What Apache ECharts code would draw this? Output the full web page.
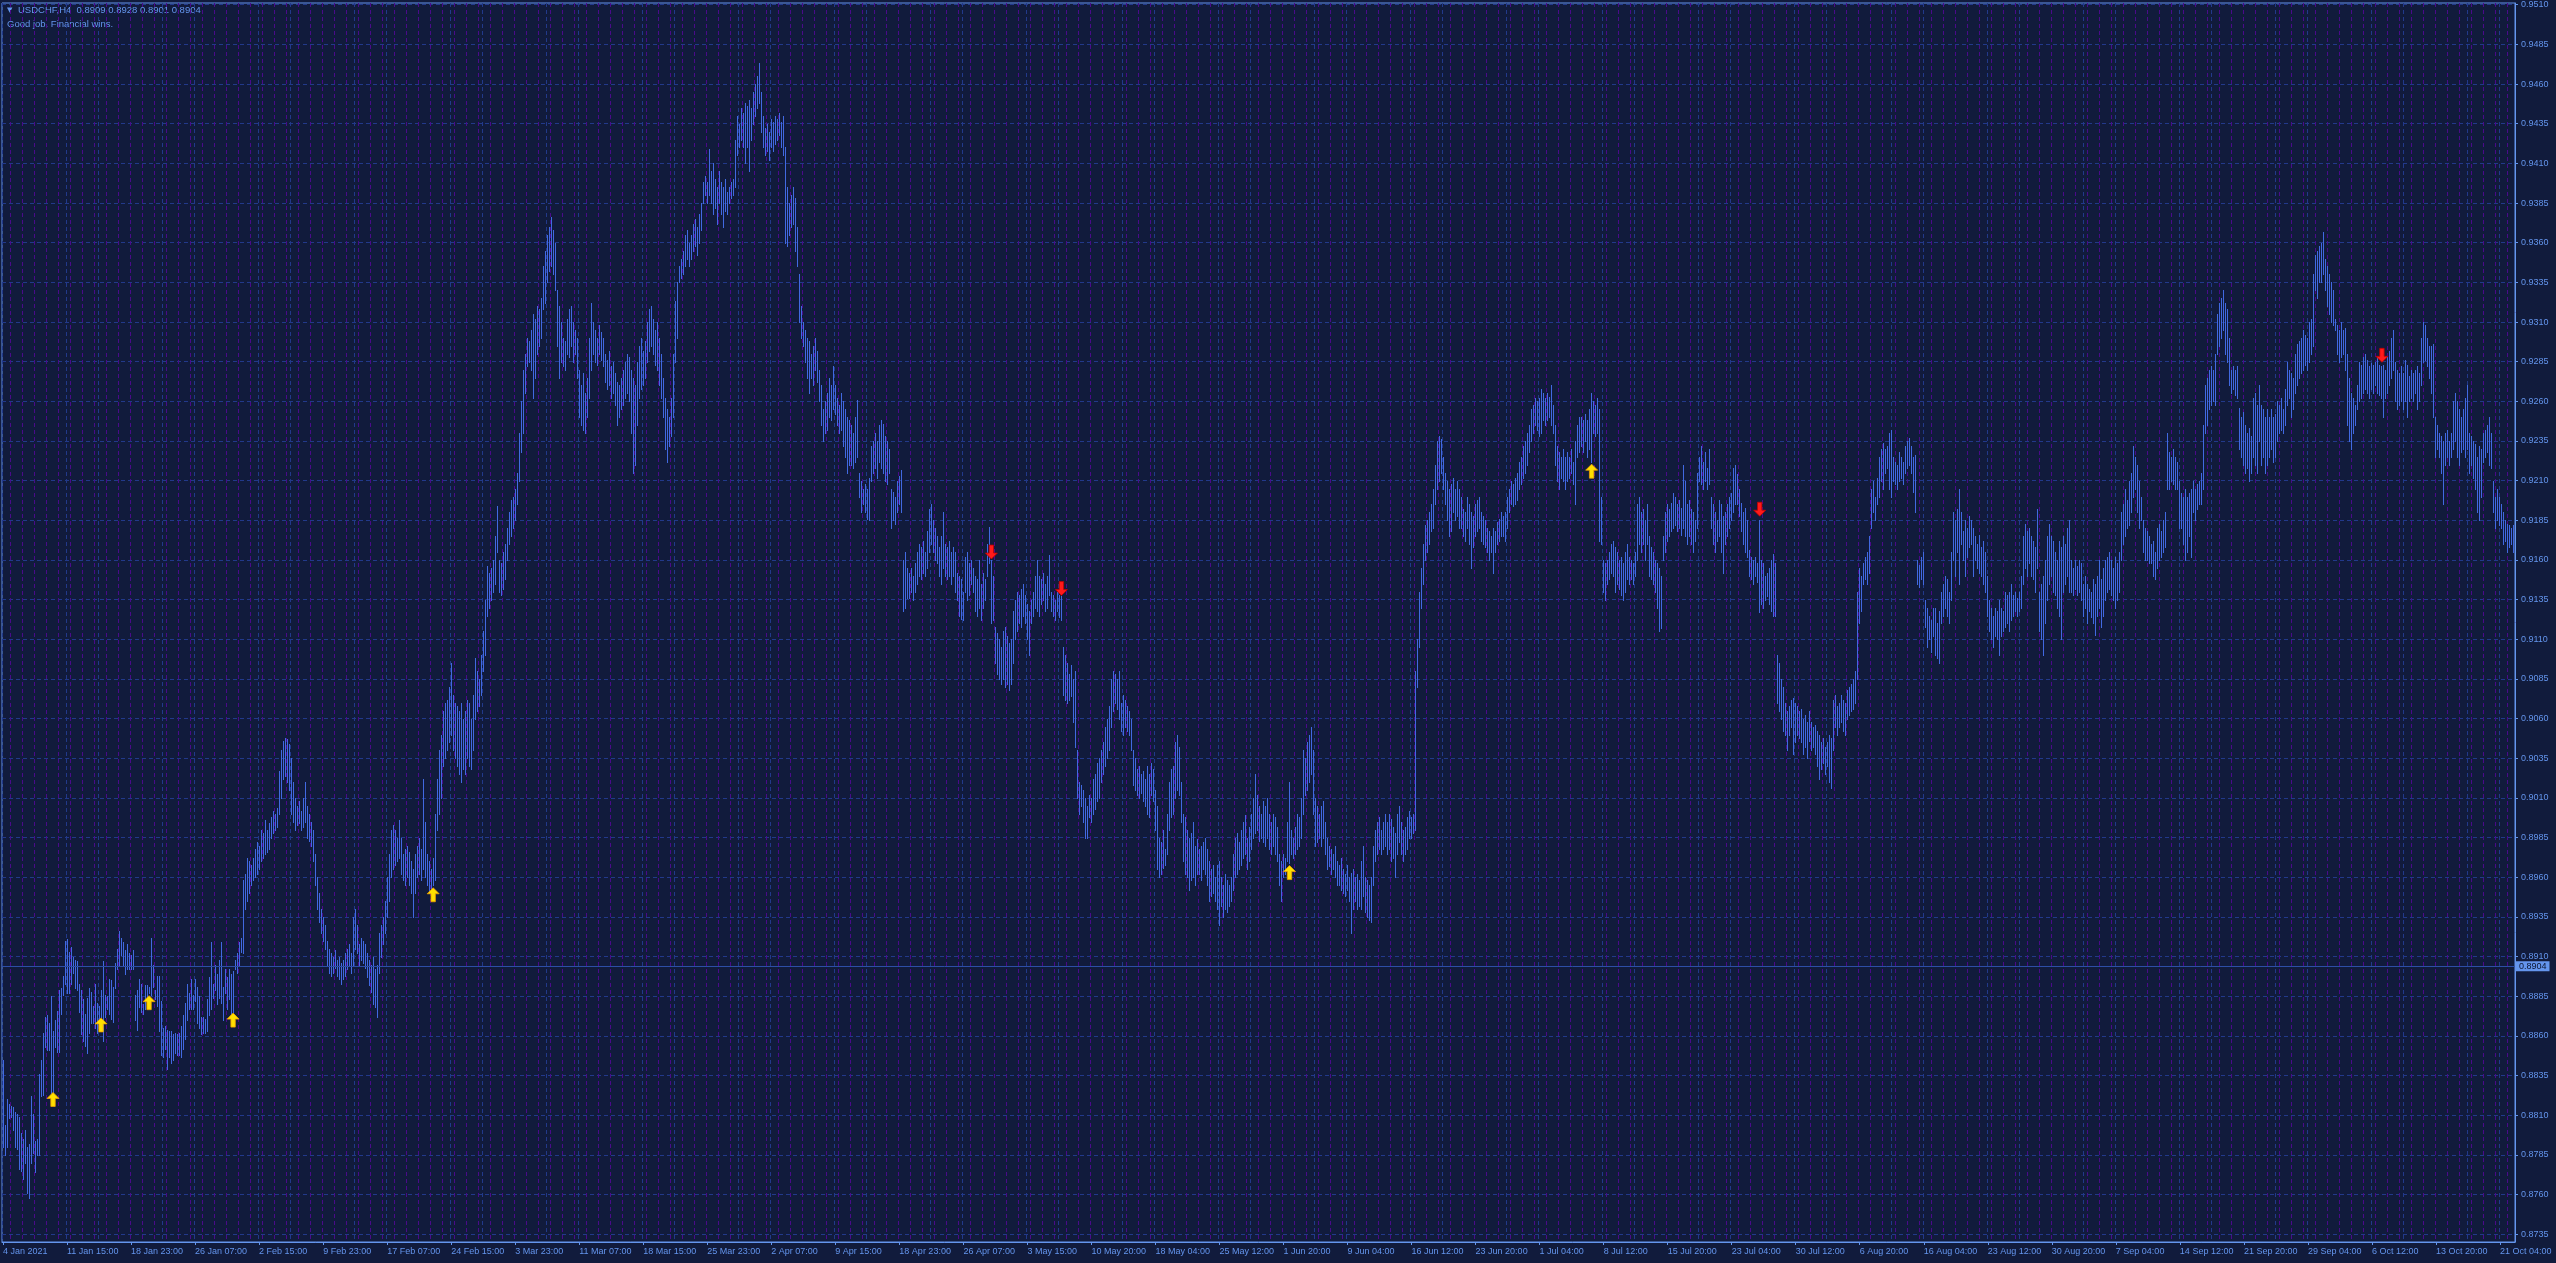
<!DOCTYPE html>
<html><head><meta charset="utf-8">
<script src="https://cdn.jsdelivr.net/npm/echarts@6/dist/echarts.min.js"></script>
<style>html,body{margin:0;padding:0;background:#111b3c;overflow:hidden}#c{width:2556px;height:1263px}</style>
</head><body><div id="c"></div>
<script>
// ---- data ----
const SYMBOL = 'USDCHF,H4';
const LAST_OHLC = [0.8909, 0.8928, 0.8901, 0.8904];
const BID = 0.8904;
const SUBTITLE = 'Good job. Financial wins.';
const PRICE_TICKS = [0.8735,0.8760,0.8785,0.8810,0.8835,0.8860,0.8885,0.8910,0.8935,0.8960,0.8985,0.9010,0.9035,0.9060,0.9085,0.9110,0.9135,0.9160,0.9185,0.9210,0.9235,0.9260,0.9285,0.9310,0.9335,0.9360,0.9385,0.9410,0.9435,0.9460,0.9485,0.9510];
const DATE_LABELS = ['4 Jan 2021','11 Jan 15:00','18 Jan 23:00','26 Jan 07:00','2 Feb 15:00','9 Feb 23:00','17 Feb 07:00','24 Feb 15:00','3 Mar 23:00','11 Mar 07:00','18 Mar 15:00','25 Mar 23:00','2 Apr 07:00','9 Apr 15:00','18 Apr 23:00','26 Apr 07:00','3 May 15:00','10 May 20:00','18 May 04:00','25 May 12:00','1 Jun 20:00','9 Jun 04:00','16 Jun 12:00','23 Jun 20:00','1 Jul 04:00','8 Jul 12:00','15 Jul 20:00','23 Jul 04:00','30 Jul 12:00','6 Aug 20:00','16 Aug 04:00','23 Aug 12:00','30 Aug 20:00','7 Sep 04:00','14 Sep 12:00','21 Sep 20:00','29 Sep 04:00','6 Oct 12:00','13 Oct 20:00','21 Oct 04:00'];
const LABEL_EVERY = 32; // bars between date labels
// bar highs / lows in price points (1 = 0.0001)
const HIGH_PTS = [
/*0*/8845,8804,8820,8817,8816,8815,8812,8811,8809,8799,
/*10*/8795,8801,8790,8792,8822,8811,8794,8795,8836,8845,
/*20*/8862,8872,8873,8868,8885,8863,8870,8876,8889,8890,
/*30*/8898,8920,8921,8913,8916,8910,8908,8907,8893,8889,
/*40*/8883,8874,8884,8890,8888,8879,8893,8881,8879,8889,
/*50*/8907,8886,8885,8896,8895,8891,8906,8915,8926,8922,
/*60*/8919,8914,8918,8912,8911,8914,8886,8889,8896,8893,
/*70*/8880,8892,8892,8891,8922,8905,8889,8898,8898,8882,
/*80*/8865,8866,8864,8863,8863,8861,8862,8861,8862,8866,
/*90*/8873,8881,8893,8887,8896,8886,8896,8891,8885,8872,
/*100*/8872,8871,8883,8897,8919,8893,8905,8899,8908,8919,
/*110*/8891,8902,8897,8902,8899,8901,8908,8912,8919,8922,
/*120*/8958,8962,8972,8970,8968,8972,8978,8982,8980,8990,
/*130*/8988,8996,8990,8994,8998,9002,9000,9004,9027,9040,
/*140*/9046,9048,9047,9044,9035,9020,9010,9005,9008,9002,
/*150*/9010,9020,9005,9000,8995,8990,8975,8960,8950,8940,
/*160*/8935,8930,8920,8915,8912,8910,8914,8908,8910,8906,
/*170*/8908,8912,8915,8918,8912,8935,8940,8930,8918,8922,
/*180*/8920,8918,8912,8908,8905,8910,8902,8905,8925,8930,
/*190*/8935,8945,8960,8975,8990,8993,8990,8985,8996,8985,
/*200*/8975,8978,8980,8976,8970,8965,8975,8980,8985,8978,
/*210*/9022,8995,8975,8970,8965,8972,9000,9022,9040,9050,
/*220*/9065,9070,9072,9080,9095,9075,9070,9068,9065,9070,
/*230*/9060,9065,9072,9070,9060,9075,9098,9090,9085,9100,
/*240*/9115,9135,9156,9152,9155,9160,9175,9194,9160,9158,
/*250*/9165,9170,9180,9190,9198,9200,9205,9215,9240,9260,
/*260*/9280,9290,9300,9298,9305,9315,9312,9320,9318,9325,
/*270*/9345,9355,9365,9370,9376,9368,9360,9330,9320,9310,
/*280*/9300,9298,9312,9318,9320,9310,9305,9300,9280,9270,
/*290*/9278,9265,9275,9300,9322,9310,9305,9300,9308,9304,
/*300*/9300,9290,9286,9292,9282,9285,9278,9272,9270,9275,
/*310*/9280,9285,9290,9288,9280,9275,9270,9285,9295,9300,
/*320*/9292,9298,9310,9318,9320,9312,9305,9310,9300,9290,
/*330*/9275,9262,9255,9250,9262,9290,9323,9335,9345,9350,
/*340*/9355,9365,9368,9360,9365,9372,9375,9370,9378,9385,
/*350*/9398,9402,9398,9419,9405,9410,9400,9395,9405,9398,
/*360*/9395,9400,9392,9395,9398,9400,9425,9440,9435,9445,
/*370*/9442,9448,9446,9450,9445,9455,9460,9465,9473,9455,
/*380*/9440,9432,9435,9430,9438,9436,9440,9438,9442,9436,
/*390*/9440,9420,9395,9385,9390,9395,9388,9370,9340,9320,
/*400*/9310,9305,9300,9298,9290,9295,9300,9292,9280,9270,
/*410*/9255,9260,9265,9275,9270,9282,9270,9262,9258,9265,
/*420*/9260,9255,9250,9248,9245,9240,9250,9261,9215,9210,
/*430*/9205,9208,9205,9212,9232,9235,9240,9235,9245,9248,
/*440*/9246,9238,9235,9230,9205,9203,9200,9210,9213,9217,
/*450*/9160,9165,9155,9152,9155,9150,9158,9165,9170,9168,
/*460*/9172,9165,9178,9192,9195,9185,9180,9175,9168,9175,
/*470*/9190,9170,9168,9172,9165,9168,9165,9152,9150,9148,
/*480*/9140,9162,9165,9158,9160,9155,9150,9148,9160,9145,
/*490*/9152,9148,9170,9181,9160,9150,9118,9114,9110,9105,
/*500*/9115,9118,9112,9108,9110,9128,9135,9140,9138,9142,
/*510*/9145,9138,9132,9128,9135,9140,9150,9160,9150,9148,
/*520*/9152,9145,9150,9163,9140,9138,9135,9140,9138,9137,
/*530*/9105,9100,9095,9088,9094,9085,9090,9040,9020,9018,
/*540*/9015,9010,9005,9012,9010,9022,9025,9032,9035,9040,
/*550*/9045,9055,9060,9068,9085,9090,9088,9085,9090,9070,
/*560*/9075,9072,9068,9065,9060,9040,9035,9028,9030,9025,
/*570*/9027,9022,9030,9025,9032,9028,9015,9005,8985,8982,
/*580*/8990,8978,9000,9020,9028,9030,9045,9050,9042,9020,
/*590*/9000,8998,8990,8985,8988,8995,8980,8984,8978,8980,
/*600*/8982,8985,8978,8970,8965,8968,8960,8968,8970,8960,
/*610*/8955,8962,8958,8955,8960,8975,8985,8988,8982,8990,
/*620*/8995,8999,8985,8992,9000,9010,9025,9012,9005,9000,
/*630*/9008,9005,9010,9000,8995,9000,8998,8992,8975,8970,
/*640*/8975,8972,8995,9020,8990,8985,8992,9000,8998,9010,
/*650*/9040,9035,9045,9050,9055,9040,9010,9005,9000,9005,
/*660*/9008,8995,8985,8980,8978,8975,8980,8970,8968,8972,
/*670*/8965,8962,8968,8960,8963,8965,8960,8962,8958,8970,
/*680*/8980,8960,8958,8955,8960,8980,8990,8995,8998,8990,
/*690*/8995,9000,8995,9000,8997,8992,8988,9000,9005,8995,
/*700*/8990,8992,8998,9002,8998,9000,9090,9110,9140,9155,
/*710*/9170,9182,9185,9190,9195,9205,9220,9235,9238,9236,
/*720*/9225,9215,9210,9205,9208,9212,9205,9210,9205,9200,
/*730*/9192,9190,9200,9195,9190,9188,9195,9198,9200,9190,
/*740*/9188,9185,9180,9178,9175,9180,9178,9184,9186,9190,
/*750*/9188,9190,9200,9205,9210,9208,9212,9215,9222,9225,
/*760*/9232,9235,9240,9245,9255,9258,9262,9260,9262,9268,
/*770*/9265,9262,9265,9263,9270,9258,9245,9232,9228,9225,
/*780*/9230,9225,9228,9225,9230,9222,9235,9245,9250,9250,
/*790*/9248,9252,9248,9255,9265,9260,9258,9262,9255,9200,
/*800*/9160,9158,9160,9165,9170,9172,9168,9165,9160,9162,
/*810*/9158,9165,9170,9162,9160,9158,9165,9195,9200,9190,
/*820*/9192,9185,9195,9175,9168,9165,9160,9158,9155,9150,
/*830*/9175,9190,9195,9192,9196,9202,9200,9195,9198,9193,
/*840*/9220,9210,9195,9198,9192,9190,9185,9215,9225,9232,
/*850*/9222,9228,9218,9230,9200,9195,9190,9185,9198,9195,
/*860*/9188,9190,9195,9200,9202,9218,9220,9214,9205,9196,
/*870*/9190,9193,9185,9166,9162,9160,9162,9158,9185,9160,
/*880*/9158,9150,9152,9155,9160,9164,9158,9100,9095,9085,
/*890*/9080,9070,9065,9068,9072,9073,9070,9068,9065,9066,
/*900*/9060,9062,9058,9065,9058,9055,9056,9052,9050,9045,
/*910*/9048,9042,9045,9050,9048,9072,9075,9068,9070,9075,
/*920*/9072,9070,9078,9080,9082,9085,9090,9140,9155,9150,
/*930*/9158,9162,9165,9175,9205,9210,9200,9212,9225,9230,
/*940*/9234,9230,9232,9240,9242,9225,9222,9220,9228,9225,
/*950*/9222,9232,9235,9237,9232,9225,9226,9160,9157,9162,
/*960*/9165,9135,9130,9125,9122,9130,9130,9120,9128,9140,
/*970*/9145,9150,9148,9140,9165,9190,9185,9192,9205,9190,
/*980*/9178,9185,9180,9188,9185,9180,9175,9170,9176,9168,
/*990*/9172,9165,9150,9135,9130,9125,9130,9128,9135,9130,
/*1000*/9128,9140,9138,9140,9145,9138,9140,9136,9140,9150,
/*1010*/9175,9183,9178,9180,9175,9172,9168,9192,9140,9145,
/*1020*/9150,9160,9175,9183,9175,9172,9165,9160,9172,9168,
/*1030*/9175,9170,9180,9185,9160,9155,9160,9156,9160,9158,
/*1040*/9145,9150,9145,9142,9140,9148,9145,9150,9160,9148,
/*1050*/9155,9160,9162,9165,9160,9155,9162,9158,9165,9190,
/*1060*/9195,9205,9198,9210,9215,9232,9225,9220,9210,9200,
/*1070*/9185,9180,9178,9175,9170,9172,9165,9180,9183,9178,
/*1080*/9185,9190,9240,9228,9225,9230,9225,9222,9210,9202,
/*1090*/9200,9205,9200,9202,9205,9210,9205,9208,9210,9215,
/*1100*/9245,9270,9275,9280,9282,9280,9290,9315,9322,9325,
/*1110*/9330,9322,9318,9300,9280,9282,9280,9282,9256,9250,
/*1120*/9253,9245,9240,9243,9238,9262,9265,9258,9270,9258,
/*1130*/9255,9250,9255,9250,9255,9250,9252,9260,9258,9262,
/*1140*/9255,9268,9285,9280,9278,9275,9290,9296,9298,9300,
/*1150*/9305,9302,9300,9310,9312,9340,9352,9355,9358,9360,
/*1160*/9367,9350,9345,9340,9335,9330,9312,9308,9305,9310,
/*1170*/9305,9306,9290,9275,9265,9262,9258,9270,9285,9283,
/*1180*/9288,9290,9286,9282,9284,9283,9285,9288,9283,9282,
/*1190*/9283,9280,9288,9292,9300,9305,9285,9280,9278,9282,
/*1200*/9278,9286,9283,9276,9280,9278,9280,9282,9278,9300,
/*1210*/9310,9308,9300,9295,9295,9296,9250,9245,9240,9238,
/*1220*/9235,9240,9242,9235,9240,9260,9265,9260,9255,9250,
/*1230*/9255,9262,9270,9240,9238,9235,9233,9225,9232,9230,
/*1240*/9240,9242,9245,9250,9240,9210,9200,9205,9200,9195,
/*1250*/9190,9185,9183,9182,9180,9182
];
const LOW_PTS = [
/*0*/8790,8785,8790,8808,8809,8801,8790,8789,8776,8775,
/*10*/8770,8780,8761,8758,8780,8786,8774,8785,8785,8822,
/*20*/8823,8853,8851,8851,8824,8824,8853,8850,8850,8874,
/*30*/8886,8893,8887,8887,8893,8900,8890,8889,8875,8861,
/*40*/8857,8854,8849,8862,8868,8868,8865,8862,8864,8872,
/*50*/8857,8872,8877,8874,8871,8869,8890,8902,8904,8911,
/*60*/8904,8899,8902,8902,8902,8902,8870,8864,8878,8875,
/*70*/8874,8877,8881,8887,8886,8891,8883,8879,8863,8848,
/*80*/8847,8852,8839,8847,8843,8845,8849,8848,8848,8847,
/*90*/8852,8858,8870,8877,8877,8877,8882,8868,8865,8861,
/*100*/8862,8862,8863,8873,8877,8884,8889,8880,8884,8881,
/*110*/8870,8887,8877,8883,8873,8875,8902,8900,8904,8913,
/*120*/8912,8940,8945,8950,8955,8958,8960,8962,8965,8970,
/*130*/8972,8975,8976,8978,8985,8988,8990,8992,9000,9010,
/*140*/9022,9024,9020,9015,9000,8995,8990,8993,8994,8990,
/*150*/8992,8995,8985,8983,8980,8970,8955,8940,8932,8925,
/*160*/8920,8915,8905,8900,8898,8900,8903,8898,8896,8893,
/*170*/8896,8898,8902,8905,8900,8905,8915,8912,8905,8908,
/*180*/8906,8903,8897,8892,8888,8880,8878,8872,8900,8910,
/*190*/8918,8925,8935,8945,8960,8965,8968,8970,8972,8962,
/*200*/8958,8955,8960,8955,8950,8935,8950,8960,8962,8958,
/*210*/8965,8960,8955,8950,8948,8955,8958,8990,9000,9010,
/*220*/9030,9035,9040,9045,9050,9040,9035,9030,9025,9020,
/*230*/9028,9025,9035,9030,9028,9040,9060,9065,9068,9075,
/*240*/9090,9100,9125,9130,9135,9140,9145,9165,9140,9138,
/*250*/9142,9148,9160,9170,9175,9180,9185,9195,9210,9228,
/*260*/9240,9265,9282,9285,9280,9262,9275,9290,9295,9300,
/*270*/9318,9322,9335,9342,9345,9340,9330,9295,9275,9285,
/*280*/9282,9280,9290,9288,9295,9285,9290,9275,9250,9245,
/*290*/9242,9240,9250,9262,9280,9290,9285,9283,9290,9286,
/*300*/9282,9272,9268,9270,9262,9265,9258,9245,9250,9255,
/*310*/9258,9262,9265,9260,9240,9215,9220,9245,9262,9268,
/*320*/9270,9275,9285,9292,9295,9290,9283,9280,9270,9262,
/*330*/9250,9230,9222,9232,9238,9250,9285,9300,9335,9338,
/*340*/9340,9345,9350,9345,9350,9355,9358,9352,9360,9368,
/*350*/9385,9390,9385,9390,9385,9378,9382,9372,9385,9378,
/*360*/9370,9380,9378,9385,9388,9390,9395,9415,9420,9425,
/*370*/9420,9410,9420,9405,9425,9435,9440,9445,9448,9430,
/*380*/9420,9415,9418,9412,9420,9418,9422,9425,9428,9420,
/*390*/9415,9360,9358,9365,9370,9372,9355,9345,9310,9300,
/*400*/9295,9285,9275,9265,9275,9270,9280,9272,9260,9245,
/*410*/9235,9240,9242,9250,9248,9255,9252,9245,9240,9242,
/*420*/9232,9225,9215,9220,9220,9218,9222,9225,9200,9190,
/*430*/9195,9190,9186,9185,9210,9215,9218,9212,9222,9218,
/*440*/9215,9210,9208,9215,9180,9185,9183,9190,9195,9190,
/*450*/9128,9130,9136,9136,9140,9135,9140,9145,9150,9148,
/*460*/9152,9150,9155,9165,9170,9165,9160,9158,9150,9145,
/*470*/9155,9150,9148,9150,9145,9150,9140,9135,9125,9123,
/*480*/9122,9140,9135,9138,9145,9140,9128,9125,9130,9122,
/*490*/9130,9135,9150,9158,9120,9122,9095,9088,9085,9082,
/*500*/9085,9080,9082,9078,9082,9095,9110,9115,9120,9118,
/*510*/9125,9120,9110,9100,9120,9125,9130,9128,9125,9132,
/*520*/9135,9128,9130,9138,9128,9125,9122,9128,9124,9122,
/*530*/9075,9072,9070,9072,9074,9058,9042,9010,9000,9005,
/*540*/8995,8985,8985,8998,8995,9000,9003,9008,9010,9020,
/*550*/9025,9030,9035,9040,9055,9065,9070,9066,9060,9052,
/*560*/9050,9055,9052,9050,9040,9018,9015,9012,9010,9013,
/*570*/9008,9005,9000,8998,9012,9008,8990,8965,8960,8962,
/*580*/8966,8968,8975,8990,8998,9000,9010,9015,9012,8995,
/*590*/8970,8962,8960,8952,8958,8960,8955,8962,8962,8958,
/*600*/8965,8962,8955,8945,8948,8950,8945,8940,8930,8942,
/*610*/8935,8940,8938,8942,8945,8952,8960,8962,8965,8968,
/*620*/8972,8975,8965,8970,8978,8985,8988,8990,8983,8985,
/*630*/8982,8980,8985,8978,8975,8980,8975,8970,8955,8945,
/*640*/8960,8962,8970,8969,8975,8972,8975,8978,8980,8985,
/*650*/9000,9012,9015,9020,9025,9000,8980,8982,8985,8980,
/*660*/8985,8975,8965,8967,8962,8965,8960,8955,8955,8952,
/*670*/8950,8948,8952,8945,8925,8940,8945,8940,8942,8940,
/*680*/8948,8938,8935,8933,8932,8955,8970,8975,8978,8975,
/*690*/8978,8980,8975,8978,8970,8972,8960,8975,8982,8975,
/*700*/8970,8975,8978,8985,8985,8988,8990,9080,9105,9130,
/*710*/9145,9160,9165,9170,9178,9180,9195,9205,9210,9215,
/*720*/9205,9195,9185,9175,9178,9190,9185,9188,9180,9180,
/*730*/9175,9172,9180,9170,9155,9168,9175,9178,9180,9172,
/*740*/9170,9168,9165,9160,9165,9152,9165,9170,9172,9175,
/*750*/9175,9172,9180,9190,9195,9194,9195,9198,9205,9208,
/*760*/9212,9215,9220,9228,9235,9240,9245,9242,9238,9240,
/*770*/9248,9245,9248,9250,9245,9240,9220,9210,9205,9212,
/*780*/9210,9205,9210,9212,9215,9208,9195,9225,9228,9232,
/*790*/9228,9235,9225,9230,9222,9240,9238,9240,9172,9170,
/*800*/9140,9135,9145,9148,9152,9150,9140,9145,9142,9138,
/*810*/9135,9140,9148,9145,9148,9145,9150,9160,9170,9165,
/*820*/9170,9160,9170,9150,9148,9145,9140,9130,9115,9117,
/*830*/9160,9165,9172,9175,9178,9180,9182,9178,9180,9176,
/*840*/9180,9175,9170,9175,9170,9165,9172,9180,9210,9208,
/*850*/9205,9210,9205,9208,9180,9170,9165,9172,9175,9165,
/*860*/9152,9170,9175,9180,9185,9190,9195,9195,9188,9178,
/*870*/9170,9165,9162,9150,9148,9145,9150,9146,9127,9132,
/*880*/9130,9135,9137,9132,9128,9125,9125,9070,9065,9060,
/*890*/9052,9050,9040,9050,9055,9038,9045,9050,9048,9045,
/*900*/9038,9042,9035,9046,9040,9042,9038,9030,9022,9028,
/*910*/9032,9025,9030,9020,9016,9040,9055,9050,9055,9058,
/*920*/9052,9050,9060,9062,9065,9066,9070,9085,9120,9128,
/*930*/9145,9148,9145,9152,9180,9190,9185,9195,9200,9210,
/*940*/9205,9215,9218,9205,9200,9210,9208,9205,9210,9212,
/*950*/9208,9215,9218,9220,9215,9203,9190,9145,9143,9148,
/*960*/9145,9118,9105,9110,9102,9112,9100,9098,9095,9120,
/*970*/9125,9130,9125,9120,9135,9160,9150,9165,9145,9170,
/*980*/9160,9150,9162,9168,9170,9150,9160,9155,9152,9150,
/*990*/9145,9140,9125,9115,9110,9105,9112,9110,9100,9112,
/*1000*/9115,9118,9120,9115,9122,9125,9128,9125,9128,9130,
/*1010*/9145,9155,9150,9158,9150,9148,9140,9155,9115,9110,
/*1020*/9100,9120,9135,9145,9150,9140,9138,9130,9125,9110,
/*1030*/9140,9145,9150,9140,9140,9138,9142,9138,9140,9135,
/*1040*/9125,9130,9120,9128,9124,9120,9113,9125,9130,9118,
/*1050*/9125,9135,9140,9142,9138,9135,9130,9135,9140,9160,
/*1060*/9170,9175,9180,9182,9190,9200,9205,9190,9180,9185,
/*1070*/9165,9160,9160,9158,9158,9150,9148,9155,9160,9162,
/*1080*/9165,9168,9205,9205,9210,9208,9205,9205,9180,9180,
/*1090*/9170,9160,9165,9175,9162,9190,9185,9192,9195,9195,
/*1100*/9205,9240,9245,9255,9258,9260,9258,9290,9295,9300,
/*1110*/9305,9290,9285,9270,9265,9268,9264,9262,9230,9225,
/*1120*/9220,9215,9218,9210,9215,9225,9220,9215,9235,9220,
/*1130*/9225,9215,9220,9225,9230,9222,9225,9235,9240,9242,
/*1140*/9240,9245,9258,9262,9250,9255,9265,9270,9275,9278,
/*1150*/9280,9283,9280,9285,9290,9295,9330,9325,9335,9335,
/*1160*/9340,9330,9320,9315,9310,9308,9305,9290,9285,9288,
/*1170*/9290,9280,9245,9235,9230,9240,9245,9255,9260,9262,
/*1180*/9265,9268,9265,9262,9268,9265,9270,9265,9264,9262,
/*1190*/9250,9262,9265,9270,9275,9280,9260,9255,9258,9260,
/*1200*/9255,9260,9250,9260,9262,9260,9265,9255,9260,9270,
/*1210*/9285,9286,9282,9275,9265,9250,9225,9230,9225,9215,
/*1220*/9195,9220,9225,9220,9225,9230,9235,9225,9220,9228,
/*1230*/9230,9225,9230,9215,9220,9212,9205,9190,9185,9200,
/*1240*/9222,9225,9228,9220,9218,9190,9180,9185,9182,9180,
/*1250*/9170,9172,9165,9168,9170,9165
];
// signal arrows: bar index and price
const BUY_IDX = [25, 49, 73, 115, 215, 643, 794];
const BUY_PRICE = [0.8820, 0.8867, 0.8881, 0.8870, 0.8949, 0.8963, 0.9216];
const SELL_IDX = [494, 529, 878, 1189];
const SELL_PRICE = [0.9165, 0.9142, 0.9192, 0.9289];

// ---- chart ----
const N = HIGH_PTS.length;
const cats = Array.from({length: N}, (_, i) => i);
const bars = cats.map(i => [i, HIGH_PTS[i] / 10000, LOW_PTS[i] / 10000]);
const FG = '#6495ED', GRID = '#22398a', SEP = '#4a0a8a', BAR = '#4169E1', BG = '#111b3c';
const FONT = 'Liberation Sans';
const chart = echarts.init(document.getElementById('c'), null, {renderer: 'canvas'});
chart.setOption({
  animation: false,
  backgroundColor: BG,
  grid: {left: 2, top: 3, width: 2513, height: 1239, show: true, borderColor: FG, borderWidth: 1, backgroundColor: 'transparent'},
  xAxis: [{
    type: 'category', data: cats, boundaryGap: true, position: 'bottom',
    axisLine: {show: true, lineStyle: {color: FG, width: 1}},
    axisTick: {show: true, alignWithLabel: true, length: 3, lineStyle: {color: FG}, interval: (i) => i % LABEL_EVERY === 0},
    axisLabel: {show: true, interval: (i) => i % LABEL_EVERY === 0, formatter: (v, i) => DATE_LABELS[Math.round(i / LABEL_EVERY)] || '',
      align: 'left', margin: 5, color: FG, fontFamily: FONT, fontSize: 9},
    splitLine: {show: true, interval: (i) => i % 16 === 0, lineStyle: {color: GRID, type: [4, 3], width: 1}}
  }, {
    type: 'category', data: cats, boundaryGap: true, position: 'bottom',
    axisLine: {show: false}, axisTick: {show: false}, axisLabel: {show: false},
    splitLine: {show: true, interval: (i) => i % 6 === 4, lineStyle: {color: SEP, type: [4, 3], width: 1}}
  }],
  yAxis: {
    type: 'value', position: 'right', min: 0.873015, max: 0.951107, scale: true,
    axisLine: {show: true, lineStyle: {color: FG}},
    axisTick: {show: true, length: 3, lineStyle: {color: FG}, customValues: PRICE_TICKS},
    axisLabel: {show: true, customValues: PRICE_TICKS, formatter: v => v.toFixed(4), margin: 6, color: FG, fontFamily: FONT, fontSize: 9},
    splitLine: {show: true, lineStyle: {color: GRID, type: [4, 3], width: 1}}
  },
  series: [{
    type: 'custom', name: 'bars', data: bars, xAxisIndex: 0, encode: {x: 0, y: [1, 2]},
    renderItem: (params, api) => {
      const i = api.value(0);
      const a = api.coord([i, api.value(1)]);
      const b = api.coord([i, api.value(2)]);
      const x = Math.floor(a[0]) + 0.5;
      return {type: 'line', shape: {x1: x, y1: Math.round(a[1]), x2: x, y2: Math.round(b[1]) + 1},
        style: {stroke: BAR, lineWidth: 1}};
    },
    z: 3
  }, {
    type: 'scatter', name: 'buy', xAxisIndex: 0,
    data: BUY_IDX.map((i, k) => [i, BUY_PRICE[k]]),
    symbol: 'path://M6,0 L12,6 L8.2,6 L8.2,14 L3.8,14 L3.8,6 L0,6 Z', symbolSize: [12, 14],
    itemStyle: {color: '#FFE000', borderColor: '#f0a000', borderWidth: 0.8, opacity: 1}, z: 5,
    markLine: {silent: true, precision: 4, symbol: ['none', 'none'], data: [{yAxis: BID}],
      lineStyle: {color: '#2d4ea6', type: 'solid', width: 1},
      label: {show: true, position: 'end', formatter: BID.toFixed(4), backgroundColor: FG, color: '#0b1430',
        padding: [1, 3, 0, 3], fontFamily: FONT, fontSize: 9, distance: 1}}
  }, {
    type: 'scatter', name: 'sell', xAxisIndex: 0,
    data: SELL_IDX.map((i, k) => [i, SELL_PRICE[k]]),
    symbol: 'path://M6,14 L12,8 L8.2,8 L8.2,0 L3.8,0 L3.8,8 L0,8 Z', symbolSize: [12, 14],
    itemStyle: {color: '#FF1a1a', borderColor: '#c00000', borderWidth: 0.8, opacity: 1}, z: 5
  }],
  graphic: [
    {type: 'text', left: 7, top: 7, style: {text: '\u25BC', fill: FG, font: '7px "DejaVu Sans"'}},
    {type: 'text', left: 18, top: 5, style: {text: SYMBOL + '  ' + LAST_OHLC.map(v => v.toFixed(4)).join(' '), fill: FG, font: '9.5px "' + FONT + '"'}},
    {type: 'text', left: 7, top: 19, style: {text: SUBTITLE, fill: FG, font: '9.5px "' + FONT + '"'}}
  ]
});
</script></body></html>
